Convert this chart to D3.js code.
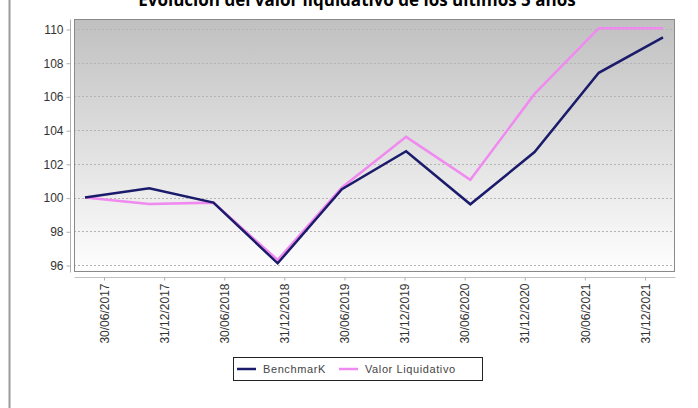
<!DOCTYPE html>
<html>
<head>
<meta charset="utf-8">
<script src="https://cdn.jsdelivr.net/npm/d3@7"></script>
<style>
  body { margin: 0; background: #fff; }
  svg { display: block; }
</style>
</head>
<body>
<svg id="chart"></svg>
<script>
// fechas de valoración
const fechas = ["30/06/2017", "31/12/2017", "30/06/2018", "31/12/2018", "30/06/2019",
                "31/12/2019", "30/06/2020", "31/12/2020", "30/06/2021", "31/12/2021"];
const benchmark = [100, 100.55, 99.7, 96.1, 100.5, 102.75, 99.6, 102.7, 107.4, 109.5];
const valorLiquidativo = [100, 99.62, 99.7, 96.3, 100.6, 103.6, 101.05, 106.15, 110.05, 110.05];
const yTicks = [96, 98, 100, 102, 104, 106, 108, 110];
const titulo = "Evolución del valor liquidativo de los últimos 5 años";

const width = 698, height = 408;
const plot = {left: 74, right: 675, top: 19, bottom: 272};

const svg = d3.select("#chart")
    .attr("width", width)
    .attr("height", height);

// borde izquierdo de la página
svg.append("line")
    .attr("x1", 9.5).attr("x2", 9.5)
    .attr("y1", 0).attr("y2", height)
    .attr("stroke", "#9a9a9a")
    .attr("stroke-width", 2);

// el título queda cortado por arriba, como en el original
svg.append("text")
    .attr("x", 357).attr("y", 6)
    .attr("text-anchor", "middle")
    .attr("font-family", "Open Sans, sans-serif")
    .attr("font-weight", "bold")
    .attr("font-size", 17)
    .attr("fill", "#000")
    .text(titulo);

// fondo degradado
const grad = svg.append("defs").append("linearGradient")
    .attr("id", "bg").attr("x1", 0).attr("x2", 0).attr("y1", 0).attr("y2", 1);
grad.append("stop").attr("offset", "0%").attr("stop-color", "#c0c0c0");
grad.append("stop").attr("offset", "100%").attr("stop-color", "#ffffff");

svg.append("rect")
    .attr("x", plot.left).attr("y", plot.top)
    .attr("width", plot.right - plot.left)
    .attr("height", plot.bottom - plot.top)
    .attr("fill", "url(#bg)");

const y = d3.scaleLinear().domain([96, 110]).range([265, 29]);

// puntos de las series y marcas del eje no coinciden en el original
const xPts = d3.scalePoint().domain(fechas).range([85, 663]);
const xTicks = d3.scalePoint().domain(fechas).range([103.5, 644.5]);

// rejilla
svg.append("g")
    .selectAll("line")
    .data(yTicks)
    .join("line")
    .attr("x1", plot.left).attr("x2", plot.right)
    .attr("y1", d => Math.round(y(d)) + 0.5)
    .attr("y2", d => Math.round(y(d)) + 0.5)
    .attr("stroke", "#b4b4b4")
    .attr("stroke-dasharray", "2,2");

svg.append("rect")
    .attr("x", plot.left + 0.5).attr("y", plot.top + 0.5)
    .attr("width", plot.right - plot.left - 1)
    .attr("height", plot.bottom - plot.top - 1)
    .attr("fill", "none")
    .attr("stroke", "#8a8a8a");

// eje Y
const yAxis = svg.append("g")
    .attr("transform", "translate(70.5,0.5)")
    .call(d3.axisLeft(y).tickValues(yTicks).tickSize(4).tickPadding(3));
yAxis.select(".domain").attr("stroke", "#b0b0b0").attr("d", `M0,${plot.top}V${plot.bottom}`);
yAxis.selectAll(".tick line").attr("stroke", "#b0b0b0");
yAxis.selectAll("text")
    .attr("font-family", "Liberation Sans, Arial, sans-serif")
    .attr("font-size", 12)
    .attr("fill", "#333");

// eje X
const xAxis = svg.append("g")
    .attr("transform", "translate(0.5,277.5)")
    .call(d3.axisBottom(xTicks).tickSize(3).tickPadding(4));
xAxis.select(".domain").attr("stroke", "#c0c0c0").attr("d", `M${plot.left},0H${plot.right}`);
xAxis.selectAll(".tick line").attr("stroke", "#b0b0b0");
xAxis.selectAll("text")
    .attr("font-family", "Liberation Sans, Arial, sans-serif")
    .attr("font-size", 12)
    .attr("fill", "#333")
    .attr("text-anchor", "end")
    .attr("dy", "0.35em")
    .attr("transform", "translate(0,6) rotate(-90)")
    .attr("x", 0).attr("y", 0);

const line = d3.line()
    .x((d, i) => xPts(fechas[i]))
    .y(d => y(d));

svg.append("path")
    .datum(valorLiquidativo)
    .attr("fill", "none")
    .attr("stroke", "#f08af0")
    .attr("stroke-width", 2.5)
    .attr("d", line);

svg.append("path")
    .datum(benchmark)
    .attr("fill", "none")
    .attr("stroke", "#1b1b6b")
    .attr("stroke-width", 2.5)
    .attr("d", line);

// leyenda
const legend = svg.append("g").attr("transform", "translate(233,357)");
legend.append("rect")
    .attr("x", 0.5).attr("y", 0.5)
    .attr("width", 249).attr("height", 23)
    .attr("fill", "#fff")
    .attr("stroke", "#222");

const items = [
    {name: "BenchmarK", color: "#1b1b6b", x: 4},
    {name: "Valor Liquidativo", color: "#f08af0", x: 106}
];
items.forEach(it => {
    legend.append("line")
        .attr("x1", it.x).attr("x2", it.x + 19)
        .attr("y1", 12).attr("y2", 12)
        .attr("stroke", it.color)
        .attr("stroke-width", 2.5);
    legend.append("text")
        .attr("x", it.x + 26).attr("y", 16)
        .attr("font-family", "Liberation Sans, Arial, sans-serif")
        .attr("font-size", 11)
        .attr("letter-spacing", 0.6)
        .attr("fill", "#444")
        .text(it.name);
});
</script>
</body>
</html>
